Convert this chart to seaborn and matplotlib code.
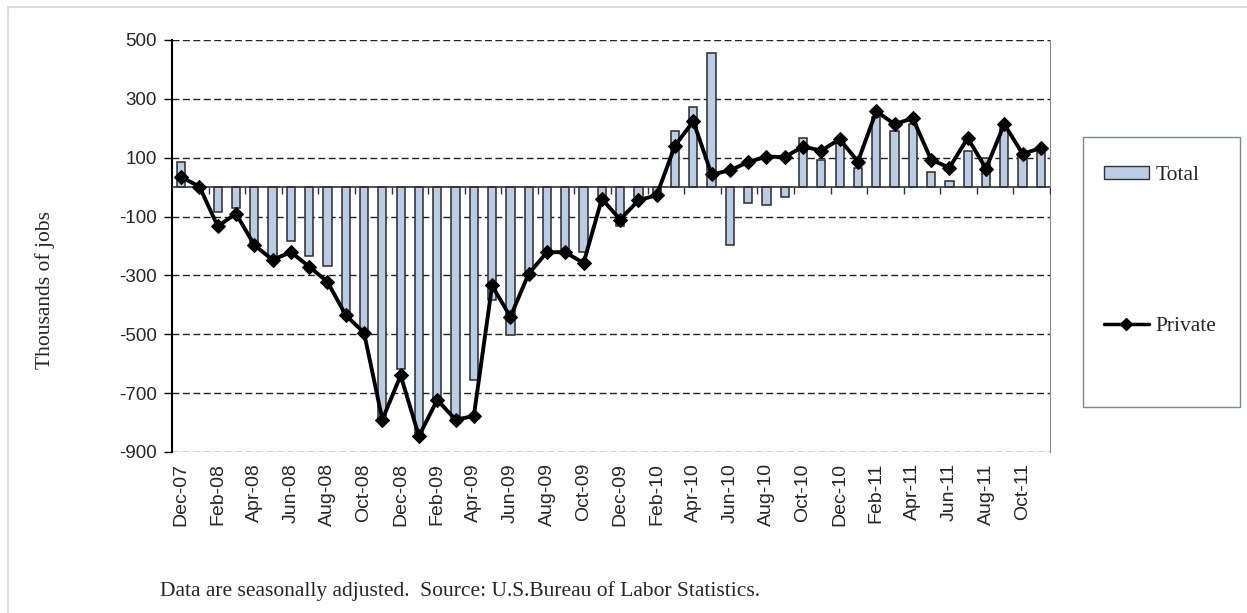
import numpy as np
import pandas as pd
import matplotlib.pyplot as plt
import seaborn as sns
from matplotlib.patches import Patch, Rectangle
from matplotlib.lines import Line2D

# monthly change in payroll employment, thousands
months = ['Dec-07', 'Jan-08', 'Feb-08', 'Mar-08', 'Apr-08', 'May-08', 'Jun-08', 'Jul-08',
          'Aug-08', 'Sep-08', 'Oct-08', 'Nov-08', 'Dec-08', 'Jan-09', 'Feb-09', 'Mar-09',
          'Apr-09', 'May-09', 'Jun-09', 'Jul-09', 'Aug-09', 'Sep-09', 'Oct-09', 'Nov-09',
          'Dec-09', 'Jan-10', 'Feb-10', 'Mar-10', 'Apr-10', 'May-10', 'Jun-10', 'Jul-10',
          'Aug-10', 'Sep-10', 'Oct-10', 'Nov-10', 'Dec-10', 'Jan-11', 'Feb-11', 'Mar-11',
          'Apr-11', 'May-11', 'Jun-11', 'Jul-11', 'Aug-11', 'Sep-11', 'Oct-11', 'Nov-11']
total = [87, -5, -85, -71, -195, -243, -183, -235, -267, -435, -492, -793,
         -617, -846, -725, -786, -656, -385, -501, -285, -221, -226, -221, -30,
         -131, -40, -23, 190, 274, 456, -196, -53, -59, -32, 168, 92,
         150, 66, 238, 191, 216, 53, 20, 123, 98, 200, 105, 118]
private = [34, 2, -133, -90, -197, -247, -221, -270, -322, -435, -495, -790,
           -640, -846, -723, -790, -778, -334, -441, -294, -221, -221, -258, -40,
           -110, -45, -27, 141, 224, 43, 57, 85, 104, 102, 138, 124,
           163, 87, 258, 214, 234, 93, 66, 167, 63, 214, 113, 133]
tick_labels = months[::2]
y_ticks = [-900, -700, -500, -300, -100, 100, 300, 500]

df = pd.DataFrame({'month': months, 'total': total, 'private': private})

sns.set_style('white')
plt.rcParams['font.family'] = ['Liberation Sans', 'DejaVu Sans']
plt.rcParams['axes.unicode_minus'] = False
serif = ['Liberation Serif', 'DejaVu Serif']
bar_col = '#B9CDE5'

fig = plt.figure(figsize=(12.47, 6.13), dpi=100)
ax = fig.add_axes([172 / 1247, 1 - 452 / 613, 878 / 1247, 412 / 613])

# dashed gridlines
for v in y_ticks:
    ax.axhline(v, color='#222222', lw=1, ls=(0, (5, 2.5)), zorder=0)

sns.barplot(data=df, x='month', y='total', color=bar_col, edgecolor='#2b2b2b',
            linewidth=1.1, width=0.45, saturation=1, ax=ax, zorder=2)
ax.axhline(0, color='#333333', lw=1.2, zorder=3)
# small ticks on the zero line between every second month
ax.plot(np.arange(1.5, len(months), 2), np.zeros(len(months) // 2), ls='none',
        marker=3, ms=5, mew=1, color='#333333', zorder=3)
sns.lineplot(x=np.arange(len(months)), y=df['private'], color='black', lw=2.8,
             marker='D', markersize=7, mec='black', mfc='black', ax=ax, zorder=4)

ax.set_xlim(-0.5, len(months) - 0.5)
ax.set_ylim(-900, 500)
ax.set_yticks(y_ticks)
ax.set_xticks(range(0, len(months), 2))
ax.set_xticklabels(tick_labels, rotation=90, fontsize=14)
ax.tick_params(axis='x', length=0, pad=8)
ax.tick_params(axis='y', direction='out', length=6, width=1, color='black',
               left=True, labelsize=13.5, pad=5)
ax.spines['left'].set_color('black')
ax.spines['left'].set_linewidth(1.5)
ax.spines['right'].set_color('#888888')
ax.spines['top'].set_visible(False)
ax.spines['bottom'].set_visible(False)
ax.set_xlabel('')
ax.set_ylabel('Thousands of jobs', family=serif, fontsize=15.5)
ax.yaxis.set_label_coords(-0.133, 0.393)

# legend box
fig.add_artist(Rectangle((1083 / 1247, 1 - 407 / 613), 157 / 1247, 270 / 613,
                         transform=fig.transFigure, fill=False,
                         edgecolor='#7a8796', lw=1))
handles = [Patch(facecolor=bar_col, edgecolor='#333333', label='Total'),
           Line2D([], [], color='black', lw=2.5, marker='D', ms=6, label='Private')]
fig.legend(handles=handles, loc='upper left', frameon=False,
           bbox_to_anchor=(1093 / 1247, 1 - 155 / 613), prop={'family': serif, 'size': 15.5},
           handlelength=2.1, handleheight=0.6, handletextpad=0.3, labelspacing=6.1,
           borderpad=0)

# faint outer border
fig.add_artist(Rectangle((8 / 1247, -0.1), 1.2, 1.1 - 7 / 613, transform=fig.transFigure,
                         fill=False, edgecolor='#dddddd', lw=1.5))

fig.text(160 / 1247, 1 - 591 / 613,
         'Data are seasonally adjusted.  Source: U.S.Bureau of Labor Statistics.',
         family=serif, fontsize=15.5, va='center')

fig.savefig('out.png', dpi=100)
